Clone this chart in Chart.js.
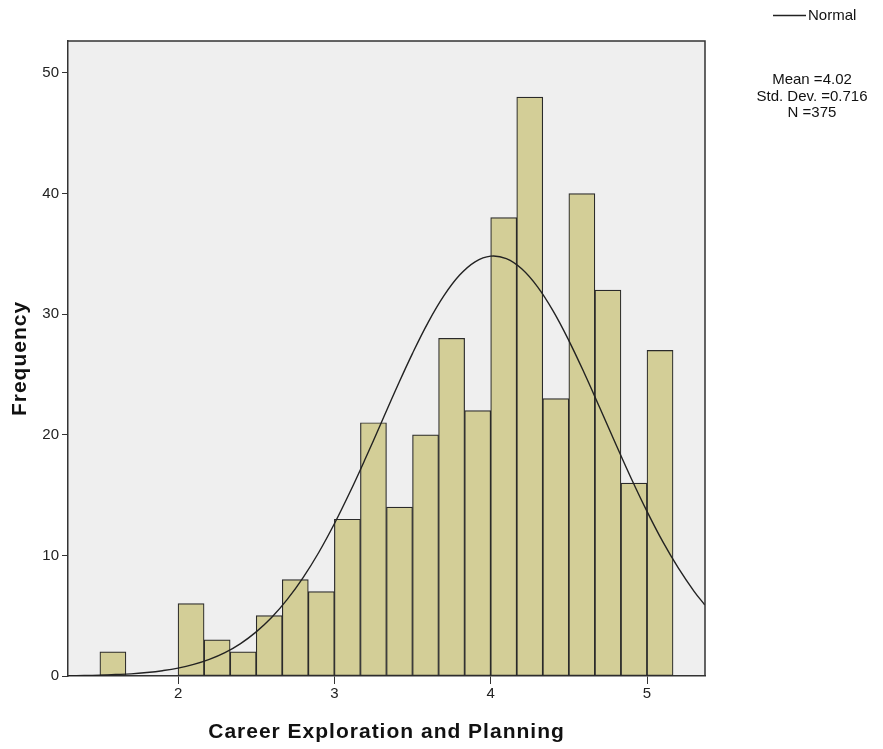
<!DOCTYPE html>
<html>
<head>
<meta charset="utf-8">
<script src="https://cdn.jsdelivr.net/npm/chart.js@4"></script>
<style>
    html, body { margin: 0; padding: 0; background: #ffffff; }
    #contenedor { width: 883px; height: 749px; }
</style>
</head>
<body>
<div id="contenedor"><canvas id="histograma" width="883" height="749"></canvas></div>
<script>
// centros de cada barra (ancho de clase 1/6)
const centrosClase = [1.5833, 2.0833, 2.25, 2.4167, 2.5833, 2.75, 2.9167, 3.0833, 3.25, 3.4167,
                      3.5833, 3.75, 3.9167, 4.0833, 4.25, 4.4167, 4.5833, 4.75, 4.9167, 5.0833];
const frecuencias = [2, 6, 3, 2, 5, 8, 7, 13, 21, 14, 20, 28, 22, 38, 48, 23, 40, 32, 16, 27];

// curva normal
const curvaX = [1.3, 1.4, 1.5, 1.6, 1.7, 1.8, 1.9, 2.0, 2.1, 2.2, 2.3, 2.4, 2.5, 2.6, 2.7, 2.8, 2.9,
                3.0, 3.1, 3.2, 3.3, 3.4, 3.5, 3.6, 3.7, 3.8, 3.9, 4.0, 4.1, 4.2, 4.3, 4.4, 4.5,
                4.6, 4.7, 4.8, 4.9, 5.0, 5.1, 5.2, 5.3, 5.37];
const curvaY = [0.03, 0.04, 0.07, 0.12, 0.18, 0.29, 0.44, 0.65, 0.96, 1.38, 1.94, 2.69, 3.66, 4.87, 6.37, 8.16, 10.24,
                12.62, 15.25, 18.07, 21.0, 23.94, 26.75, 29.32, 31.51, 33.22, 34.34, 34.81, 34.6, 33.74, 32.26, 30.25, 27.81,
                25.08, 22.18, 19.24, 16.36, 13.65, 11.16, 8.96, 7.04, 5.89];

const ticksX = [2, 3, 4, 5];
const ticksY = [0, 10, 20, 30, 40, 50];
const etiquetaCurva = 'Normal';
const estadisticas = ['Mean =4.02', 'Std. Dev. =0.716', 'N =375'];

const fuente = "'Liberation Sans', Arial, sans-serif";

const pluginMarco = {
    id: 'marco',
    beforeDraw(chart) {
        const {ctx, chartArea: a} = chart;
        ctx.save();
        ctx.fillStyle = '#efefef';
        ctx.fillRect(a.left, a.top, a.right - a.left, a.bottom - a.top);
        ctx.restore();
        // los titulos de SPSS van algo espaciados, solo los titulos
        Object.values(chart.scales).forEach(s => {
            if (s._tituloEspaciado) return;
            const original = s.drawTitle;
            s.drawTitle = function() {
                this.ctx.letterSpacing = '1px';
                original.apply(this, arguments);
                this.ctx.letterSpacing = '0px';
            };
            s._tituloEspaciado = true;
        });
    },
    afterDraw(chart) {
        const {ctx, chartArea: a} = chart;
        ctx.save();
        ctx.strokeStyle = '#333333';
        ctx.lineWidth = 1.5;
        ctx.beginPath();
        ctx.moveTo(a.left, a.top);
        ctx.lineTo(a.right, a.top);
        ctx.lineTo(a.right, a.bottom);
        ctx.stroke();

        // leyenda
        ctx.lineWidth = 1.3;
        ctx.strokeStyle = '#222222';
        ctx.beginPath();
        ctx.moveTo(773, 15.5);
        ctx.lineTo(806, 15.5);
        ctx.stroke();
        ctx.fillStyle = '#111111';
        ctx.font = '15px ' + fuente;
        ctx.textBaseline = 'middle';
        ctx.textAlign = 'left';
        ctx.fillText(etiquetaCurva, 808, 16);

        ctx.textAlign = 'center';
        estadisticas.forEach((t, i) => ctx.fillText(t, 812, 80 + i * 16.5));
        ctx.restore();
    }
};

const ctx = document.getElementById('histograma').getContext('2d');
const grafico = new Chart(ctx, {
    type: 'bar',
    data: {
        datasets: [{
            type: 'line',
            label: etiquetaCurva,
            data: curvaX.map((x, i) => ({x: x, y: curvaY[i]})),
            borderColor: '#222222',
            borderWidth: 1.4,
            pointRadius: 0,
            tension: 0.4,
            fill: false,
            order: 1
        }, {
            type: 'bar',
            label: 'Frequency',
            data: centrosClase.map((x, i) => ({x: x, y: frecuencias[i]})),
            backgroundColor: '#d3ce97',
            borderColor: '#2a2a2a',
            borderWidth: 1.2,
            borderSkipped: false,
            barPercentage: 1,
            categoryPercentage: 1,
            grouped: false,
            order: 2
        }]
    },
    options: {
        responsive: false,
        animation: false,
        layout: { padding: { top: 41, right: 178, left: 0, bottom: 0 } },
        plugins: {
            legend: { display: false },
            tooltip: { enabled: false }
        },
        scales: {
            x: {
                type: 'linear',
                min: 1.296,
                max: 5.371,
                offset: false,
                grid: { offset: false, drawOnChartArea: false, drawTicks: true, tickLength: 8, color: '#333333' },
                border: { color: '#333333', width: 1.5 },
                ticks: { color: '#222222', font: { family: fuente, size: 15 }, padding: 1, maxRotation: 0 },
                afterBuildTicks: s => { s.ticks = ticksX.map(v => ({value: v})); },
                afterFit: s => { s.height = 73; },
                title: {
                    display: true,
                    text: 'Career Exploration and Planning',
                    color: '#111111',
                    font: { family: fuente, size: 21, weight: 'bold' },
                    padding: { top: 0, bottom: 4 }
                }
            },
            y: {
                type: 'linear',
                min: 0,
                max: 52.65,
                grid: { drawOnChartArea: false, drawTicks: true, tickLength: 6, color: '#333333' },
                border: { color: '#333333', width: 1.5 },
                ticks: { color: '#222222', font: { family: fuente, size: 15 }, padding: 3 },
                afterBuildTicks: s => { s.ticks = ticksY.map(v => ({value: v})); },
                afterFit: s => { s.width = 68; },
                title: {
                    display: true,
                    text: 'Frequency',
                    color: '#111111',
                    font: { family: fuente, size: 21, weight: 'bold' },
                    padding: { top: 8, bottom: 0 }
                }
            }
        }
    },
    plugins: [pluginMarco]
});
</script>
</body>
</html>
